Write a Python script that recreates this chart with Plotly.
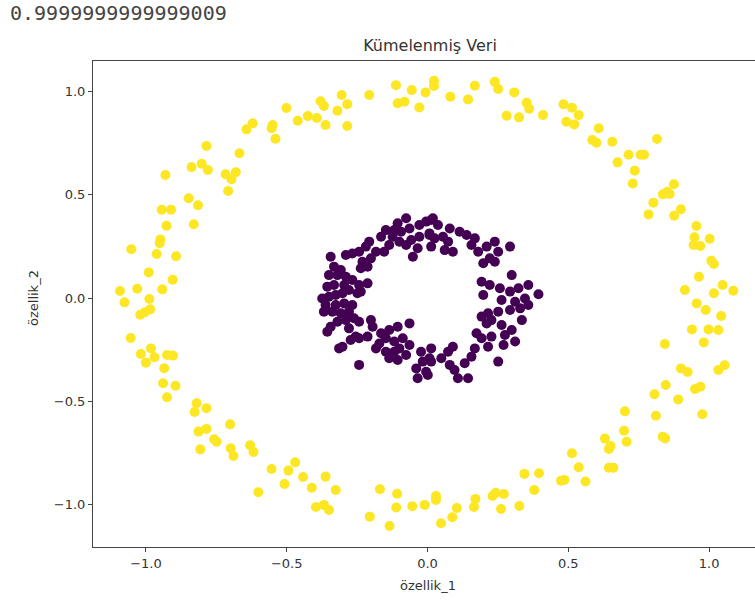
import plotly.graph_objects as go

# Outer ring (cluster 1, yellow)
outer_x = [-0.501,-0.461,-0.425,-0.393,-0.380,-0.621,-0.643,-0.550,-0.554,-0.540,-0.785,-0.668,-0.931,-0.838,-0.802,-0.780,-0.717,-0.681,-0.696,-0.708,-0.848,-0.815,-0.944,-0.911,-0.927,-0.830,
           -0.949,-0.951,-1.052,-0.962,-0.893,-0.990,-0.905,-1.092,-1.031,-0.942,-1.076,-0.988,-0.985,-1.004,-1.020,-1.054,-0.982,-1.018,-0.970,-1.000,-0.925,-0.904,-0.935,-0.939,-0.895,
           -0.925,-0.820,-0.827,-0.785,-0.813,-0.785,-0.701,-0.758,-0.749,-0.807,-0.699,-0.689,-0.630,-0.618,-0.554,-0.494,-0.470,-0.508,-0.442,-0.601,-0.411,-0.396,
           -0.362,-0.326,-0.368,-0.350,-0.169,-0.108,-0.205,-0.135,-0.111,-0.054,-0.010,0.030,0.030,0.048,0.088,0.104,0.170,0.165,0.231,0.242,0.271,0.261,0.326,0.344,0.396,0.379,
           0.474,0.486,0.561,0.513,0.537,0.630,0.644,0.650,0.644,0.660,0.701,0.698,0.707,0.806,0.846,0.890,0.811,0.835,0.844,0.950,0.969,0.976,
           0.955,0.948,1.002,0.945,0.969,1.008,1.017,0.964,0.914,1.017,1.048,1.086,0.956,0.988,1.043,0.939,0.998,1.033,0.981,0.843,0.900,0.924,1.033,1.055,
           0.410,0.483,0.513,0.537,0.493,0.521,0.608,0.585,0.600,0.656,0.815,0.714,0.757,0.769,0.675,0.736,0.729,0.875,0.852,0.836,0.860,0.802,0.785,0.900,0.876,
           -0.368,-0.362,-0.320,-0.305,-0.285,-0.285,-0.207,-0.112,-0.106,-0.082,-0.056,-0.029,-0.007,0.023,0.023,0.081,0.144,0.168,0.239,0.251,0.308,0.352,0.361,0.281,0.325]
outer_y = [0.920,0.859,0.881,0.872,0.953,0.846,0.817,0.838,0.822,0.771,0.736,0.701,0.596,0.634,0.650,0.620,0.599,0.609,0.575,0.518,0.483,0.449,0.428,0.428,0.350,0.357,
           0.284,0.265,0.236,0.213,0.202,0.124,0.089,0.034,0.045,0.042,-0.021,-0.005,-0.055,-0.069,-0.081,-0.194,-0.244,-0.271,-0.287,-0.313,-0.276,-0.279,-0.340,-0.413,-0.425,
           -0.481,-0.510,-0.552,-0.534,-0.647,-0.634,-0.612,-0.684,-0.696,-0.733,-0.728,-0.765,-0.713,-0.746,-0.828,-0.836,-0.796,-0.901,-0.867,-0.941,-0.919,-1.012,
           -0.865,-0.930,-1.002,-1.027,-0.926,-0.948,-1.059,-1.104,-1.015,-1.009,-1.002,-0.959,-0.978,-1.091,-1.062,-1.017,-0.973,-1.012,-0.959,-0.943,-0.949,-1.022,-1.007,-0.852,-0.849,-0.930,
           -0.885,-0.881,-0.889,-0.752,-0.820,-0.681,-0.731,-0.717,-0.822,-0.822,-0.549,-0.643,-0.696,-0.466,-0.421,-0.491,-0.570,-0.672,-0.680,-0.441,-0.430,-0.563,
           0.349,0.294,0.287,0.257,0.252,0.181,0.165,0.103,0.039,0.023,0.063,0.035,-0.026,-0.058,-0.087,-0.152,-0.152,-0.155,-0.215,-0.223,-0.341,-0.358,-0.349,-0.326,
           0.886,0.938,0.922,0.886,0.854,0.841,0.822,0.765,0.752,0.757,0.770,0.694,0.694,0.694,0.657,0.617,0.555,0.551,0.515,0.502,0.504,0.462,0.405,0.430,0.399,
           0.930,0.838,0.907,0.983,0.939,0.833,0.983,1.031,0.943,0.951,1.007,0.923,0.996,1.052,1.027,0.975,0.962,1.028,1.047,1.012,0.996,0.946,0.917,0.883,0.875]

# Inner ring (cluster 0, purple)
inner_x = [-0.076,-0.106,-0.118,-0.094,-0.064,-0.029,-0.005,0.007,-0.029,-0.058,-0.035,-0.052,-0.076,-0.100,-0.124,-0.148,-0.165,-0.136,-0.154,-0.183,-0.207,-0.219,-0.243,-0.267,-0.290,-0.231,-0.201,-0.213,-0.237,
           -0.344,-0.332,-0.308,-0.350,-0.320,-0.290,-0.267,-0.296,-0.332,-0.356,-0.279,-0.302,-0.326,-0.350,-0.374,-0.362,-0.326,-0.296,-0.267,-0.249,-0.243,-0.213,-0.237,
           -0.368,-0.338,-0.308,-0.279,-0.261,-0.290,-0.320,-0.344,-0.356,-0.279,-0.243,-0.201,-0.195,-0.213,-0.243,-0.273,-0.302,-0.314,-0.255,
           -0.165,-0.136,-0.106,-0.064,-0.148,-0.171,-0.183,-0.148,-0.118,-0.088,-0.100,-0.118,-0.136,-0.106,-0.076,-0.064,-0.023,-0.017,-0.040,-0.035,-0.005,0.007,-0.243,0.019,
           0.013,0.037,0.007,0.025,0.013,0.055,0.079,0.073,0.090,0.061,0.114,0.139,0.168,0.156,0.180,0.210,0.239,0.251,0.293,0.198,0.239,0.221,0.299,
           0.192,0.221,0.257,0.293,0.323,0.358,0.394,0.198,0.263,0.311,0.346,0.358,0.329,0.293,0.251,0.215,0.192,0.227,0.210,0.263,0.335,0.299,
           0.174,0.192,0.227,0.275,0.311,0.270,0.215,0.168,0.156,0.132,0.090,0.073,0.049,0.079,0.096,0.144,0.108,0.013,0.013,0.001,0.251]
inner_y = [0.386,0.362,0.329,0.321,0.337,0.354,0.370,0.305,0.297,0.281,0.241,0.200,0.257,0.273,0.297,0.329,0.297,0.257,0.224,0.224,0.273,0.249,0.224,0.216,0.208,0.176,0.192,0.152,0.144,
           0.200,0.152,0.136,0.111,0.111,0.103,0.087,0.063,0.063,0.055,0.039,0.023,0.015,0.006,-0.002,-0.034,-0.034,-0.026,-0.034,0.023,0.063,0.071,0.031,
           -0.066,-0.066,-0.074,-0.066,-0.098,-0.107,-0.115,-0.139,-0.163,-0.147,-0.115,-0.107,-0.139,-0.187,-0.195,-0.203,-0.236,-0.244,-0.187,
           -0.171,-0.155,-0.139,-0.123,-0.195,-0.220,-0.244,-0.260,-0.211,-0.195,-0.244,-0.260,-0.292,-0.300,-0.276,-0.228,-0.260,-0.308,-0.341,-0.389,-0.357,-0.292,-0.324,0.386,
           0.378,0.354,0.313,0.289,0.249,0.297,0.337,0.273,0.224,0.232,0.321,0.305,0.289,0.257,0.224,0.249,0.273,0.224,0.249,0.168,0.176,0.192,0.111,
           0.079,0.063,0.047,0.031,0.047,0.063,0.018,0.015,-0.010,-0.018,-0.002,-0.034,-0.050,-0.058,-0.066,-0.074,-0.090,-0.107,-0.123,-0.131,-0.107,-0.155,
           -0.171,-0.195,-0.187,-0.179,-0.211,-0.228,-0.236,-0.244,-0.284,-0.316,-0.236,-0.260,-0.292,-0.324,-0.349,-0.389,-0.389,-0.244,-0.308,-0.373,-0.308]

tick_vals = [-1.0, -0.5, 0.0, 0.5, 1.0]
tick_text = ["\u22121.0", "\u22120.5", "0.0", "0.5", "1.0"]

title_text = "Kümelenmiş Veri"
x_label = "özellik_1"
y_label = "özellik_2"
printed_value = "0.9999999999999009"

FONT = "DejaVu Sans"
TXT = "#333333"

fig = go.Figure()
fig.add_trace(go.Scatter(x=inner_x, y=inner_y, mode="markers",
                         marker=dict(size=10, color="#440154", line=dict(width=0)),
                         showlegend=False, hoverinfo="skip"))
fig.add_trace(go.Scatter(x=outer_x, y=outer_y, mode="markers",
                         marker=dict(size=10, color="#fde725", line=dict(width=0)),
                         showlegend=False, hoverinfo="skip"))

axis_common = dict(showgrid=False, zeroline=False, ticks="outside", ticklen=4,
                   tickcolor="#444", tickwidth=1, showline=True, linecolor="#444",
                   linewidth=1, tickfont=dict(family=FONT, size=13, color=TXT),
                   tickvals=tick_vals, ticktext=tick_text)

fig.update_layout(
    width=755, height=606,
    margin=dict(l=93, r=0, t=61, b=59),
    paper_bgcolor="white", plot_bgcolor="white",
    xaxis=dict(range=[-1.188, 1.163], mirror=True, **axis_common),
    yaxis=dict(range=[-1.206, 1.148], mirror=False, **axis_common),
    title=dict(text=title_text, x=430/755, xanchor="center", y=1-45/606, yanchor="middle",
               font=dict(family=FONT, size=16, color=TXT)),
)

fig.add_annotation(text=x_label, xref="paper", yref="paper",
                   x=(428-93)/662, y=-(585-547)/486, xanchor="center", yanchor="middle",
                   showarrow=False, font=dict(family=FONT, size=13, color=TXT))
fig.add_annotation(text=y_label, xref="paper", yref="paper", textangle=-90,
                   x=-(93-33)/662, y=(547-298)/486, xanchor="center", yanchor="middle",
                   showarrow=False, font=dict(family=FONT, size=13, color=TXT))
fig.add_annotation(text=printed_value, xref="paper", yref="paper",
                   x=-(93-8)/662, y=1+(61-13)/486, xanchor="left", yanchor="middle",
                   showarrow=False, font=dict(family="DejaVu Sans Mono", size=20, color="#444444"))

fig.write_html("out.html")
